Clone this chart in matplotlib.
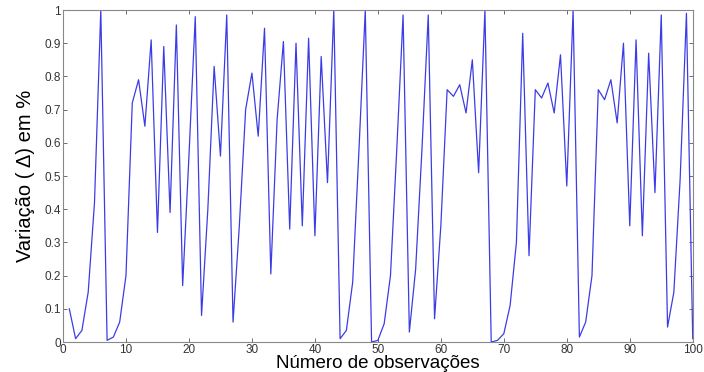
import numpy as np
import matplotlib
matplotlib.use('Agg')
from matplotlib import pyplot as plt

plt.rcParams['font.family'] = ['Liberation Sans', 'DejaVu Sans']

obs = np.arange(1, 101)
variacao = [
    0.10, 0.01, 0.035, 0.15, 0.42, 1.00, 0.005, 0.015, 0.06, 0.20,
    0.72, 0.79, 0.65, 0.91, 0.33, 0.89, 0.39, 0.955, 0.17, 0.56,
    0.98, 0.08, 0.40, 0.83, 0.56, 0.985, 0.06, 0.35, 0.70, 0.81,
    0.62, 0.945, 0.205, 0.67, 0.905, 0.34, 0.90, 0.35, 0.915, 0.32,
    0.86, 0.48, 1.00, 0.01, 0.035, 0.18, 0.58, 1.00, 0.0, 0.005,
    0.055, 0.20, 0.58, 0.985, 0.03, 0.22, 0.58, 0.985, 0.07, 0.35,
    0.76, 0.74, 0.775, 0.69, 0.85, 0.51, 1.00, 0.0, 0.005, 0.025,
    0.11, 0.30, 0.93, 0.26, 0.76, 0.735, 0.78, 0.69, 0.865, 0.47,
    1.00, 0.015, 0.06, 0.20, 0.76, 0.73, 0.79, 0.66, 0.90, 0.35,
    0.91, 0.32, 0.87, 0.45, 0.985, 0.045, 0.15, 0.49, 0.99, 0.01,
]
x_ticks = np.arange(0, 101, 10)
y_ticks = np.round(np.arange(0, 1.01, 0.1), 1)
y_tick_labels = ['0'] + ['%.1f' % v for v in y_ticks[1:-1]] + ['1']

fig = plt.figure(figsize=(7.04, 3.72), dpi=100)
ax = fig.add_axes([0.0895, 0.0806, 0.8945, 0.8925])
ax.plot(obs, variacao, color='#3c3ce6', linewidth=0.9)

ax.set_xlim(0, 100)
ax.set_ylim(0, 1)
ax.set_xticks(x_ticks)
ax.set_yticks(y_ticks)
ax.set_yticklabels(y_tick_labels)
ax.tick_params(direction='in', top=True, right=True, length=3, width=0.6,
               labelsize=8.5, colors='#555555', labelcolor='#333333', pad=1.5)
for s in ax.spines.values():
    s.set_color('#888888')
    s.set_linewidth(0.8)

ax.set_xlabel('Número de observações', fontsize=13.5, labelpad=-1)
ax.set_ylabel('Variação ( Δ) em %', fontsize=14.5, labelpad=7)

fig.savefig('out.png', dpi=100)
